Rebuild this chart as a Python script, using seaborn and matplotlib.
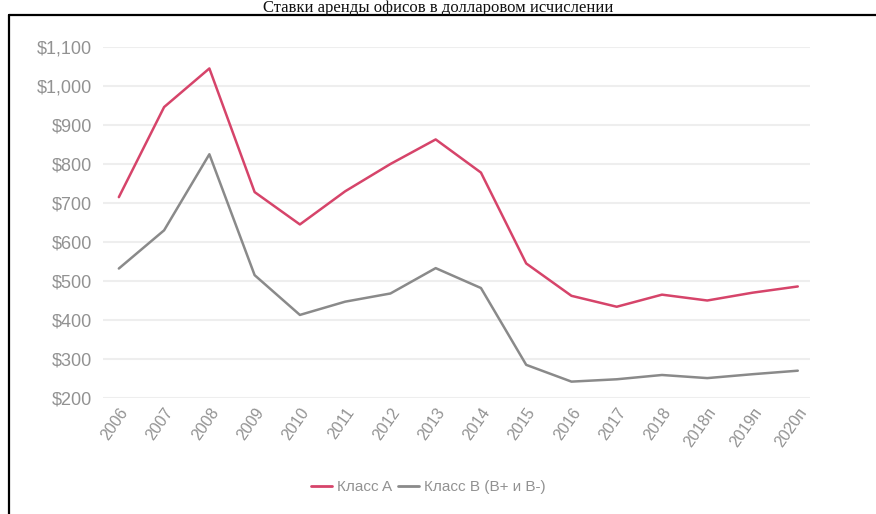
import matplotlib
matplotlib.use("Agg")
import matplotlib.pyplot as plt
from matplotlib.lines import Line2D
import seaborn as sns
import pandas as pd

years = ["2006", "2007", "2008", "2009", "2010", "2011", "2012", "2013",
         "2014", "2015", "2016", "2017", "2018", "2018п", "2019п", "2020п"]
class_a = [715, 946, 1045, 728, 645, 730, 800, 863, 778, 545, 462, 434, 465, 450, 470, 486]
class_b = [532, 630, 825, 515, 413, 447, 468, 533, 482, 285, 242, 248, 259, 251, 261, 270]
yticks = [200, 300, 400, 500, 600, 700, 800, 900, 1000, 1100]
series_names = ["Класс A", "Класс B (B+ и B-)"]
colors = ["#d6446a", "#8a8a8a"]

df = pd.DataFrame({
    "year": years * 2,
    "pos": list(range(len(years))) * 2,
    "value": class_a + class_b,
    "series": [series_names[0]] * len(years) + [series_names[1]] * len(years),
})

sns.set_theme(style="white")
plt.rcParams["font.family"] = ["Liberation Sans Narrow", "Liberation Sans", "DejaVu Sans"]

fig = plt.figure(figsize=(8.76, 5.14), dpi=100)
ax = fig.add_axes([103 / 876, 1 - 398 / 514, 707 / 876, 351 / 514])

sns.lineplot(data=df, x="pos", y="value", hue="series", palette=colors,
             linewidth=1.8, ax=ax, legend=False)

ax.set_xlim(-0.35, len(years) - 1 + 0.27)
ax.set_ylim(200, 1100)
ax.set_yticks(yticks)
ax.set_yticklabels([f"${v:,}" for v in yticks])
ax.set_xticks(range(len(years)))
ax.set_xticklabels(years, rotation=55, ha="right", rotation_mode="anchor")
ax.tick_params(axis="both", colors="#929292", length=0)
ax.tick_params(axis="y", pad=8, labelsize=13)
ax.tick_params(axis="x", pad=5, labelsize=11.5)
ax.set_xlabel("")
ax.set_ylabel("")
ax.yaxis.grid(True, color="#eeeeee", linewidth=1.5)
ax.xaxis.grid(False)
for s in ax.spines.values():
    s.set_visible(False)

handles = [Line2D([0], [0], color=c, linewidth=2) for c in colors]
fig.legend(handles, series_names, loc="center", bbox_to_anchor=(428 / 876, 1 - 487 / 514),
           ncol=2, frameon=False, fontsize=11, labelcolor="#929292",
           handlelength=1.4, handletextpad=0.3, columnspacing=0.4)

# frame around the chart area
fig.add_artist(Line2D([8.5 / 876, 1.0], [1 - 14.5 / 514, 1 - 14.5 / 514],
                      color="black", linewidth=1.6, transform=fig.transFigure))
fig.add_artist(Line2D([8.5 / 876, 8.5 / 876], [0, 1 - 14.5 / 514],
                      color="black", linewidth=1.6, transform=fig.transFigure))

fig.text(438 / 876, 1 - 12 / 514, "Ставки аренды офисов в долларовом исчислении",
         ha="center", va="baseline", fontsize=12, color="#111111",
         family=["Liberation Serif", "DejaVu Serif"])

fig.savefig("out.png", dpi=100)
